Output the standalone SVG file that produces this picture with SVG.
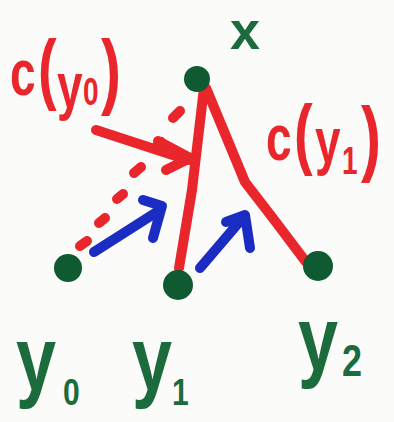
<svg xmlns="http://www.w3.org/2000/svg" width="394" height="422" viewBox="0 0 394 422">
<style>
.red{stroke:#e8262c;fill:none;stroke-width:10;stroke-linecap:round;stroke-linejoin:round}
.blue{stroke:#1a2cc2;fill:none;stroke-width:10;stroke-linecap:round;stroke-linejoin:round}
.dot{fill:#0f5a30}
.lr{fill:#e8262c;font-family:"Liberation Sans",Arial,sans-serif;font-weight:bold}
.lg{fill:#1b6b3c;font-family:"Liberation Sans",Arial,sans-serif;font-weight:bold}
</style>
<rect width="394" height="422" fill="#fbfbfa"/>
<g id="connectors">
<path class="red" d="M204,88 L192,190 L179,268"/>
<path class="red" d="M206,88 L245,182 L272,217 L306,262"/>
<path class="red" d="M173,118 L180,111 M156,147 L161,142 M134,173 L141,167 M117,199 L123,194 M99,223 L105,218 M80,246 L87,241"/>
<path class="red" d="M96,130 L188,160 M158,141 L190,158 L166,170"/>
<path class="blue" d="M94,252 L160,210 M143,200 L162,206 L153,238"/>
<path class="blue" d="M200,268 L241,220 M226,222 L245,215 L250,248"/>
</g>
<g id="node-x"><text class="lg" font-size="54" x="230" y="49">x</text></g>
<g id="node-top"><circle class="dot" cx="197" cy="79" r="13"/></g>
<g id="node-y0"><circle class="dot" cx="68" cy="268" r="14"/></g>
<g id="node-y1"><circle class="dot" cx="178" cy="285" r="15"/></g>
<g id="node-y2"><circle class="dot" cx="318" cy="266" r="15"/></g>
<g id="label-cy0"><text class="lr" font-size="46" transform="translate(0,95) scale(1,1.4)"><tspan x="10" y="0">c</tspan><tspan x="38" y="0" font-size="56">(</tspan><tspan x="57" y="9">y</tspan><tspan x="83" y="7" font-size="28">0</tspan><tspan x="101" y="3" font-size="60">)</tspan></text></g>
<g id="label-cy1"><text class="lr" font-size="46" transform="translate(0,160) scale(1,1.4)"><tspan x="266" y="0">c</tspan><tspan x="294" y="0" font-size="56">(</tspan><tspan x="315" y="2">y</tspan><tspan x="342" y="10" font-size="28">1</tspan><tspan x="361" y="4" font-size="60">)</tspan></text></g>
<g id="label-y0"><text class="lg" font-size="72" transform="translate(0,390) scale(1,1.25)"><tspan x="16" y="0">y</tspan><tspan x="63" y="12" font-size="30">0</tspan></text></g>
<g id="label-y1"><text class="lg" font-size="72" transform="translate(0,390) scale(1,1.25)"><tspan x="132" y="0">y</tspan><tspan x="172" y="12" font-size="30">1</tspan></text></g>
<g id="label-y2"><text class="lg" font-size="72" transform="translate(0,370) scale(1,1.25)"><tspan x="298" y="0">y</tspan><tspan x="342" y="5" font-size="36">2</tspan></text></g>
</svg>
